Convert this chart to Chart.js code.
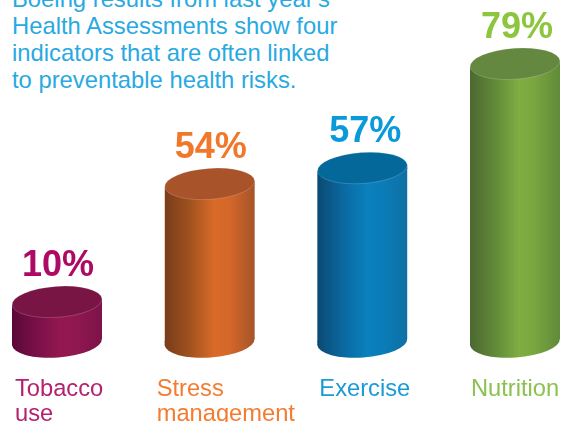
<!DOCTYPE html>
<html>
<head>
<meta charset="utf-8">
<script src="https://cdn.jsdelivr.net/npm/chart.js@4"></script>
<style>
    html, body { margin: 0; padding: 0; background: #fff; overflow: hidden; }
    #wrap { position: relative; width: 564px; height: 422px; overflow: hidden; }
    #intro {
        position: absolute; left: 12px; top: -15px; white-space: pre;
        font: 23.8px/27px "Liberation Sans", sans-serif; color: #29a9e1;
    }
    canvas { position: absolute; left: 0; top: 0; }
</style>
</head>
<body>
<div id="wrap">
    <div id="intro">Boeing results from last year's
Health Assessments show four
indicators that are often linked
to preventable health risks.</div>
    <canvas id="chart" width="564" height="422"></canvas>
</div>
<script>
const categories = [["Tobacco", "use"], ["Stress", "management"], ["Exercise"], ["Nutrition"]];
const percentLabels = ["10%", "54%", "57%", "79%"];
// the picture's columns are not drawn to scale with their percentages, so heights are read off separately
const columnHeights = [11.4, 44.9, 49.4, 79];

const labelColors = ["#b5206f", "#f47b30", "#1a9bd7", "#8cc152"];
const valueColors = ["#ad0a66", "#f1772b", "#0a9ad9", "#8cc63f"];
const topColors = ["#781544", "#a8532a", "#04689a", "#64883f"];
const sideStops = [
    ["#5a0838", "#7a1048", "#94184f", "#8f1850", "#7c1348"],
    ["#793c1b", "#a0521f", "#d96a28", "#d5672a", "#a5542a"],
    ["#0a4a72", "#0b68a0", "#0a80bc", "#0a7db8", "#0f6fa4"],
    ["#4c6832", "#628a38", "#80ae42", "#7aa540", "#5f8a38"]
];
const labelOffsets = [-42, -53, -43, -44];
const valueOffsets = [1, 1, 3, 2];
const halfWidth = 45;
const capRadius = 15.5;
const capTilt = -4 * Math.PI / 180;
const capLean = halfWidth * Math.sin(-capTilt);

function sideGradient(ctx2d, centerX, index) {
    const g = ctx2d.createLinearGradient(centerX - halfWidth, 0, centerX + halfWidth, 0);
    const positions = [0, 0.28, 0.55, 0.72, 1];
    sideStops[index].forEach((c, i) => g.addColorStop(positions[i], c));
    return g;
}

// Bottoms, tops and texts of the columns
const cylinderPlugin = {
    id: "cylinders",
    beforeDatasetsDraw(chart) {
        const c = chart.ctx;
        chart.getDatasetMeta(0).data.forEach((bar, i) => {
            c.save();
            c.fillStyle = sideGradient(c, bar.x, i);
            c.beginPath();
            c.ellipse(bar.x, bar.base, halfWidth, capRadius, capTilt, 0, Math.PI * 2);
            c.fill();
            // wedges the square bar leaves open where the caps lean
            c.beginPath();
            c.moveTo(bar.x - halfWidth, bar.base - 1);
            c.lineTo(bar.x - halfWidth, bar.base + capLean);
            c.lineTo(bar.x, bar.base);
            c.lineTo(bar.x, bar.base - 1);
            c.closePath();
            c.moveTo(bar.x + halfWidth, bar.y + 1);
            c.lineTo(bar.x + halfWidth, bar.y - capLean);
            c.lineTo(bar.x, bar.y);
            c.lineTo(bar.x, bar.y + 1);
            c.closePath();
            c.fill();
            c.restore();
        });
    },
    // the caps lean, so the square bar ends are cut along the same slant
    beforeDatasetDraw(chart) {
        const c = chart.ctx;
        c.save();
        c.beginPath();
        chart.getDatasetMeta(0).data.forEach(bar => {
            c.moveTo(bar.x - halfWidth, bar.y + capLean);
            c.lineTo(bar.x + halfWidth, bar.y - capLean);
            c.lineTo(bar.x + halfWidth, bar.base - capLean);
            c.lineTo(bar.x - halfWidth, bar.base + capLean);
            c.closePath();
        });
        c.clip();
    },
    afterDatasetDraw(chart) {
        chart.ctx.restore();
    },
    afterDatasetsDraw(chart) {
        const c = chart.ctx;
        chart.getDatasetMeta(0).data.forEach((bar, i) => {
            c.save();
            c.fillStyle = topColors[i];
            c.strokeStyle = "rgba(255,255,255,0.3)";
            c.lineWidth = 0.6;
            c.beginPath();
            c.ellipse(bar.x, bar.y, halfWidth, capRadius, capTilt, 0, Math.PI * 2);
            c.fill();
            c.stroke();

            c.fillStyle = valueColors[i];
            c.font = "bold 36px 'Liberation Sans', sans-serif";
            c.textAlign = "center";
            c.textBaseline = "alphabetic";
            c.fillText(percentLabels[i], bar.x + valueOffsets[i], bar.y - 26);

            c.fillStyle = labelColors[i];
            c.font = "23.7px 'Liberation Sans', sans-serif";
            c.textAlign = "left";
            categories[i].forEach((line, n) => {
                c.fillText(line, bar.x + labelOffsets[i], 396 + n * 25);
            });
            c.restore();
        });
    }
};

new Chart(document.getElementById("chart").getContext("2d"), {
    type: "bar",
    data: {
        labels: categories,
        datasets: [{
            data: columnHeights,
            barThickness: halfWidth * 2,
            clip: false,
            borderWidth: 0,
            backgroundColor: ctx => {
                const chart = ctx.chart;
                if (!chart.chartArea || ctx.dataIndex === undefined) return topColors[0];
                return sideGradient(chart.ctx, chart.scales.x.getPixelForValue(ctx.dataIndex), ctx.dataIndex);
            }
        }]
    },
    options: {
        responsive: false,
        animation: false,
        layout: { padding: { left: 57, right: 49, top: 25, bottom: 80 } },
        plugins: { legend: { display: false }, tooltip: { enabled: false } },
        scales: {
            x: {
                offset: false,
                grid: { display: false, drawTicks: false },
                border: { display: false },
                ticks: { display: false }
            },
            y: { display: false, min: 0, max: 90 }
        }
    },
    plugins: [cylinderPlugin]
});
</script>
</body>
</html>
